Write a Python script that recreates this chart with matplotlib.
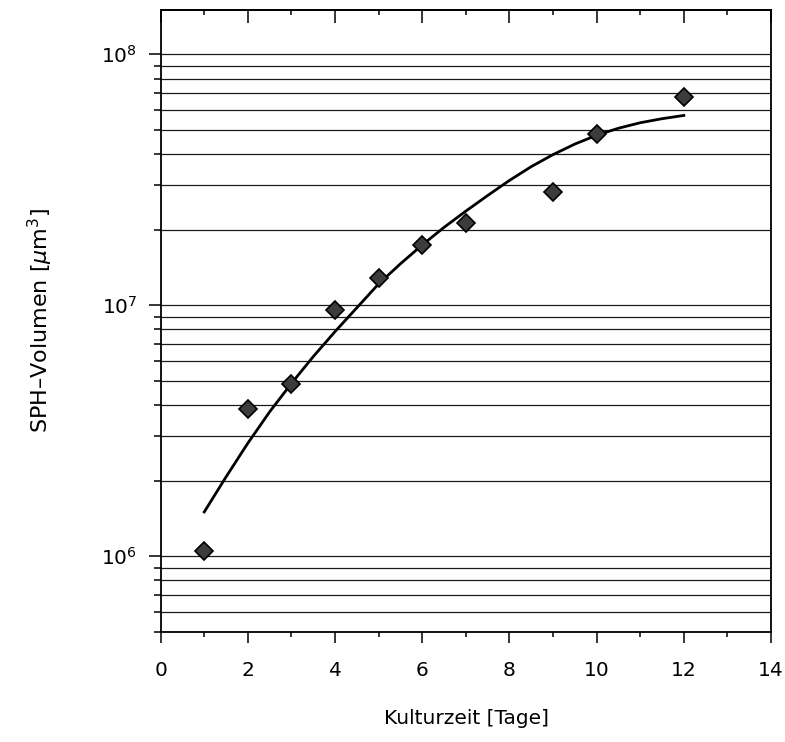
import numpy as np
import matplotlib
matplotlib.use("Agg")
import matplotlib.pyplot as plt
from matplotlib.ticker import LogLocator, MultipleLocator, NullFormatter

# measured spheroid volumes per culture day
days = [1, 2, 3, 4, 5, 6, 7, 9, 10, 12]
volume = [1.05e6, 3.85e6, 4.85e6, 9.6e6, 1.28e7, 1.73e7, 2.13e7, 2.82e7, 4.83e7, 6.76e7]

# growth curve
fit_days = [1.0, 1.5, 2.0, 2.5, 3.0, 3.5, 4.0, 4.5, 5.0, 5.5, 6.0, 6.5,
            7.0, 7.5, 8.0, 8.5, 9.0, 9.5, 10.0, 10.5, 11.0, 11.5, 12.0]
fit_volume = [1.50e6, 2.07e6, 2.82e6, 3.76e6, 4.88e6, 6.24e6, 7.85e6, 9.77e6,
              1.216e7, 1.462e7, 1.738e7, 2.042e7, 2.371e7, 2.735e7, 3.141e7,
              3.565e7, 3.981e7, 4.385e7, 4.753e7, 5.070e7, 5.333e7, 5.534e7, 5.702e7]

x_ticks = [0, 2, 4, 6, 8, 10, 12, 14]

plt.rcParams['font.family'] = ['DejaVu Sans']
plt.rcParams['mathtext.fontset'] = 'dejavusans'

fig = plt.figure(figsize=(7.85, 7.42), dpi=100)
ax = fig.add_axes([0.2047, 0.1487, 0.9822 - 0.2047, 0.9865 - 0.1487])

ax.set_yscale('log')
ax.set_xlim(0, 14)
ax.set_ylim(5e5, 1.5e8)

# horizontal grid at every decade and sub-decade
ax.yaxis.set_major_locator(LogLocator(base=10, numticks=10))
ax.yaxis.set_minor_locator(LogLocator(base=10, subs=np.arange(2, 10), numticks=20))
ax.yaxis.set_minor_formatter(NullFormatter())
ax.grid(True, axis='y', which='both', color='#1a1a1a', linewidth=0.9)
ax.set_axisbelow(True)

ax.plot(fit_days, fit_volume, color='black', linewidth=2.0, zorder=3)
ax.plot(days, volume, linestyle='none', marker='D', markersize=9.5,
        markerfacecolor='#3c3c3c', markeredgecolor='black', markeredgewidth=1.2, zorder=4)

ax.set_xticks(x_ticks)
ax.xaxis.set_minor_locator(MultipleLocator(1))

ax.tick_params(axis='x', which='major', direction='out', length=8, width=1.1,
               labelsize=14.5, pad=13)
ax.tick_params(axis='x', which='minor', direction='out', length=3.5, width=1.1)
ax.tick_params(axis='y', which='major', direction='out', length=9, width=1.1,
               labelsize=14.5, pad=8, right=False)
ax.tick_params(axis='y', which='minor', direction='out', length=5, width=1.1, right=False)

# inward ticks along the top edge
top = ax.secondary_xaxis('top')
top.set_xticks(x_ticks)
top.xaxis.set_minor_locator(MultipleLocator(1))
top.tick_params(axis='x', which='major', direction='in', length=9, width=1.1, labeltop=False)
top.tick_params(axis='x', which='minor', direction='in', length=3.5, width=1.1)
top.spines['top'].set_linewidth(1.3)

for s in ax.spines.values():
    s.set_linewidth(1.3)

fig.text(466 / 785, 1 - 718 / 742, 'Kulturzeit [Tage]',
         ha='center', va='center', fontsize=14.5)
fig.text(40 / 785, 1 - 320 / 742, 'SPH\u2013Volumen [$\\mu$m$^3$]', rotation=90,
         ha='center', va='center', fontsize=16)

fig.savefig('out.png', dpi=100)
